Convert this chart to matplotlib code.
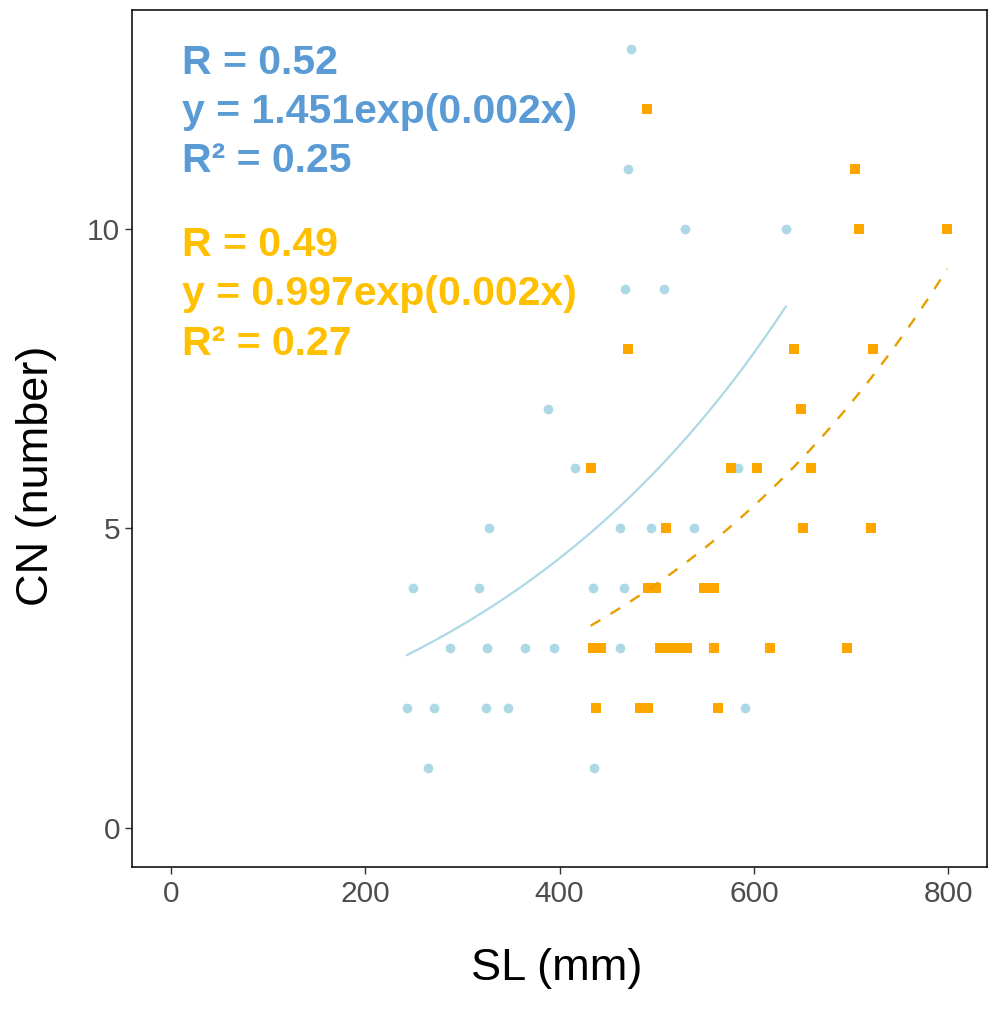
import numpy as np
import matplotlib
matplotlib.use("Agg")
import matplotlib.pyplot as plt

plt.rcParams['font.family'] = ['Liberation Sans', 'DejaVu Sans']

# group 1 (light blue circles)
blue_sl = [474, 470, 529, 633, 467, 508, 388, 416, 584,
           327, 462, 494, 538, 249, 317, 434, 466,
           287, 325, 364, 394, 462, 243, 271, 324, 347, 591, 265, 436]
blue_cn = [13, 11, 10, 10, 9, 9, 7, 6, 6,
           5, 5, 5, 5, 4, 4, 4, 4,
           3, 3, 3, 3, 3, 2, 2, 2, 2, 2, 1, 1]

# group 2 (orange squares)
orange_sl = [490, 704, 708, 799, 470, 641, 723, 649,
             432, 576, 603, 659, 510, 651, 721,
             491, 499, 549, 559,
             434, 443, 503, 512, 521, 531, 559, 617, 696,
             438, 483, 491, 563]
orange_cn = [12, 11, 10, 10, 8, 8, 8, 7,
             6, 6, 6, 6, 5, 5, 5,
             4, 4, 4, 4,
             3, 3, 3, 3, 3, 3, 3, 3, 3,
             2, 2, 2, 2]

# exponential fit curves y = a*exp(b*x)
blue_fit = (1.451, 0.00283)
orange_fit = (1.02, 0.00277)

blue_text = ["R = 0.52", "y = 1.451exp(0.002x)", "R² = 0.25"]
orange_text = ["R = 0.49", "y = 0.997exp(0.002x)", "R² = 0.27"]

W, H = 997, 1009
fig = plt.figure(figsize=(W / 100, H / 100), dpi=100)
ax = fig.add_axes([132 / W, (H - 867) / H, 855 / W, 857 / H])

ax.plot(blue_sl, blue_cn, 'o', color='#ADD8E6', ms=7, mew=0, zorder=2)
ax.plot(orange_sl, orange_cn, 's', color='#FFA500', ms=6.8, mew=0, zorder=2)

xb = np.linspace(min(blue_sl), max(blue_sl), 200)
ax.plot(xb, blue_fit[0] * np.exp(blue_fit[1] * xb), color='#ADD8E6', lw=1.6, zorder=3)
xo = np.linspace(min(orange_sl), max(orange_sl), 200)
ax.plot(xo, orange_fit[0] * np.exp(orange_fit[1] * xo), color='#E69F00', lw=1.7,
        ls=(0, (4.8, 5.0)), zorder=3)

ax.set_xlim(-40, 840)
ax.set_ylim(-0.65, 13.65)
ax.set_xticks([0, 200, 400, 600, 800])
ax.set_yticks([0, 5, 10])
ax.tick_params(direction='out', length=5, width=1.0, color='#333333',
               labelsize=21.5, labelcolor='#4D4D4D')
ax.tick_params(axis='x', pad=4.5)
ax.tick_params(axis='y', pad=3.5)
for sp in ax.spines.values():
    sp.set_linewidth(1.1)
    sp.set_color('black')

# annotation blocks
tx = (182 - 132) / 855
for txt, base in zip(blue_text, [74, 123, 172]):
    ax.text(tx, (867 - base) / 857, txt, transform=ax.transAxes, color='#5B9BD5',
            fontsize=29.5, fontweight='bold', va='baseline', ha='left')
for txt, base in zip(orange_text, [256, 305, 355]):
    ax.text(tx, (867 - base) / 857, txt, transform=ax.transAxes, color='#FFC000',
            fontsize=29.5, fontweight='bold', va='baseline', ha='left')

fig.text(557 / W, (H - 980) / H, "SL (mm)", fontsize=32.5, ha='center', va='baseline')
fig.text(37 / W, (H - 476) / H, "CN (number)", fontsize=32.5, rotation=90,
         ha='center', va='center')

fig.savefig("out.png", dpi=100)
